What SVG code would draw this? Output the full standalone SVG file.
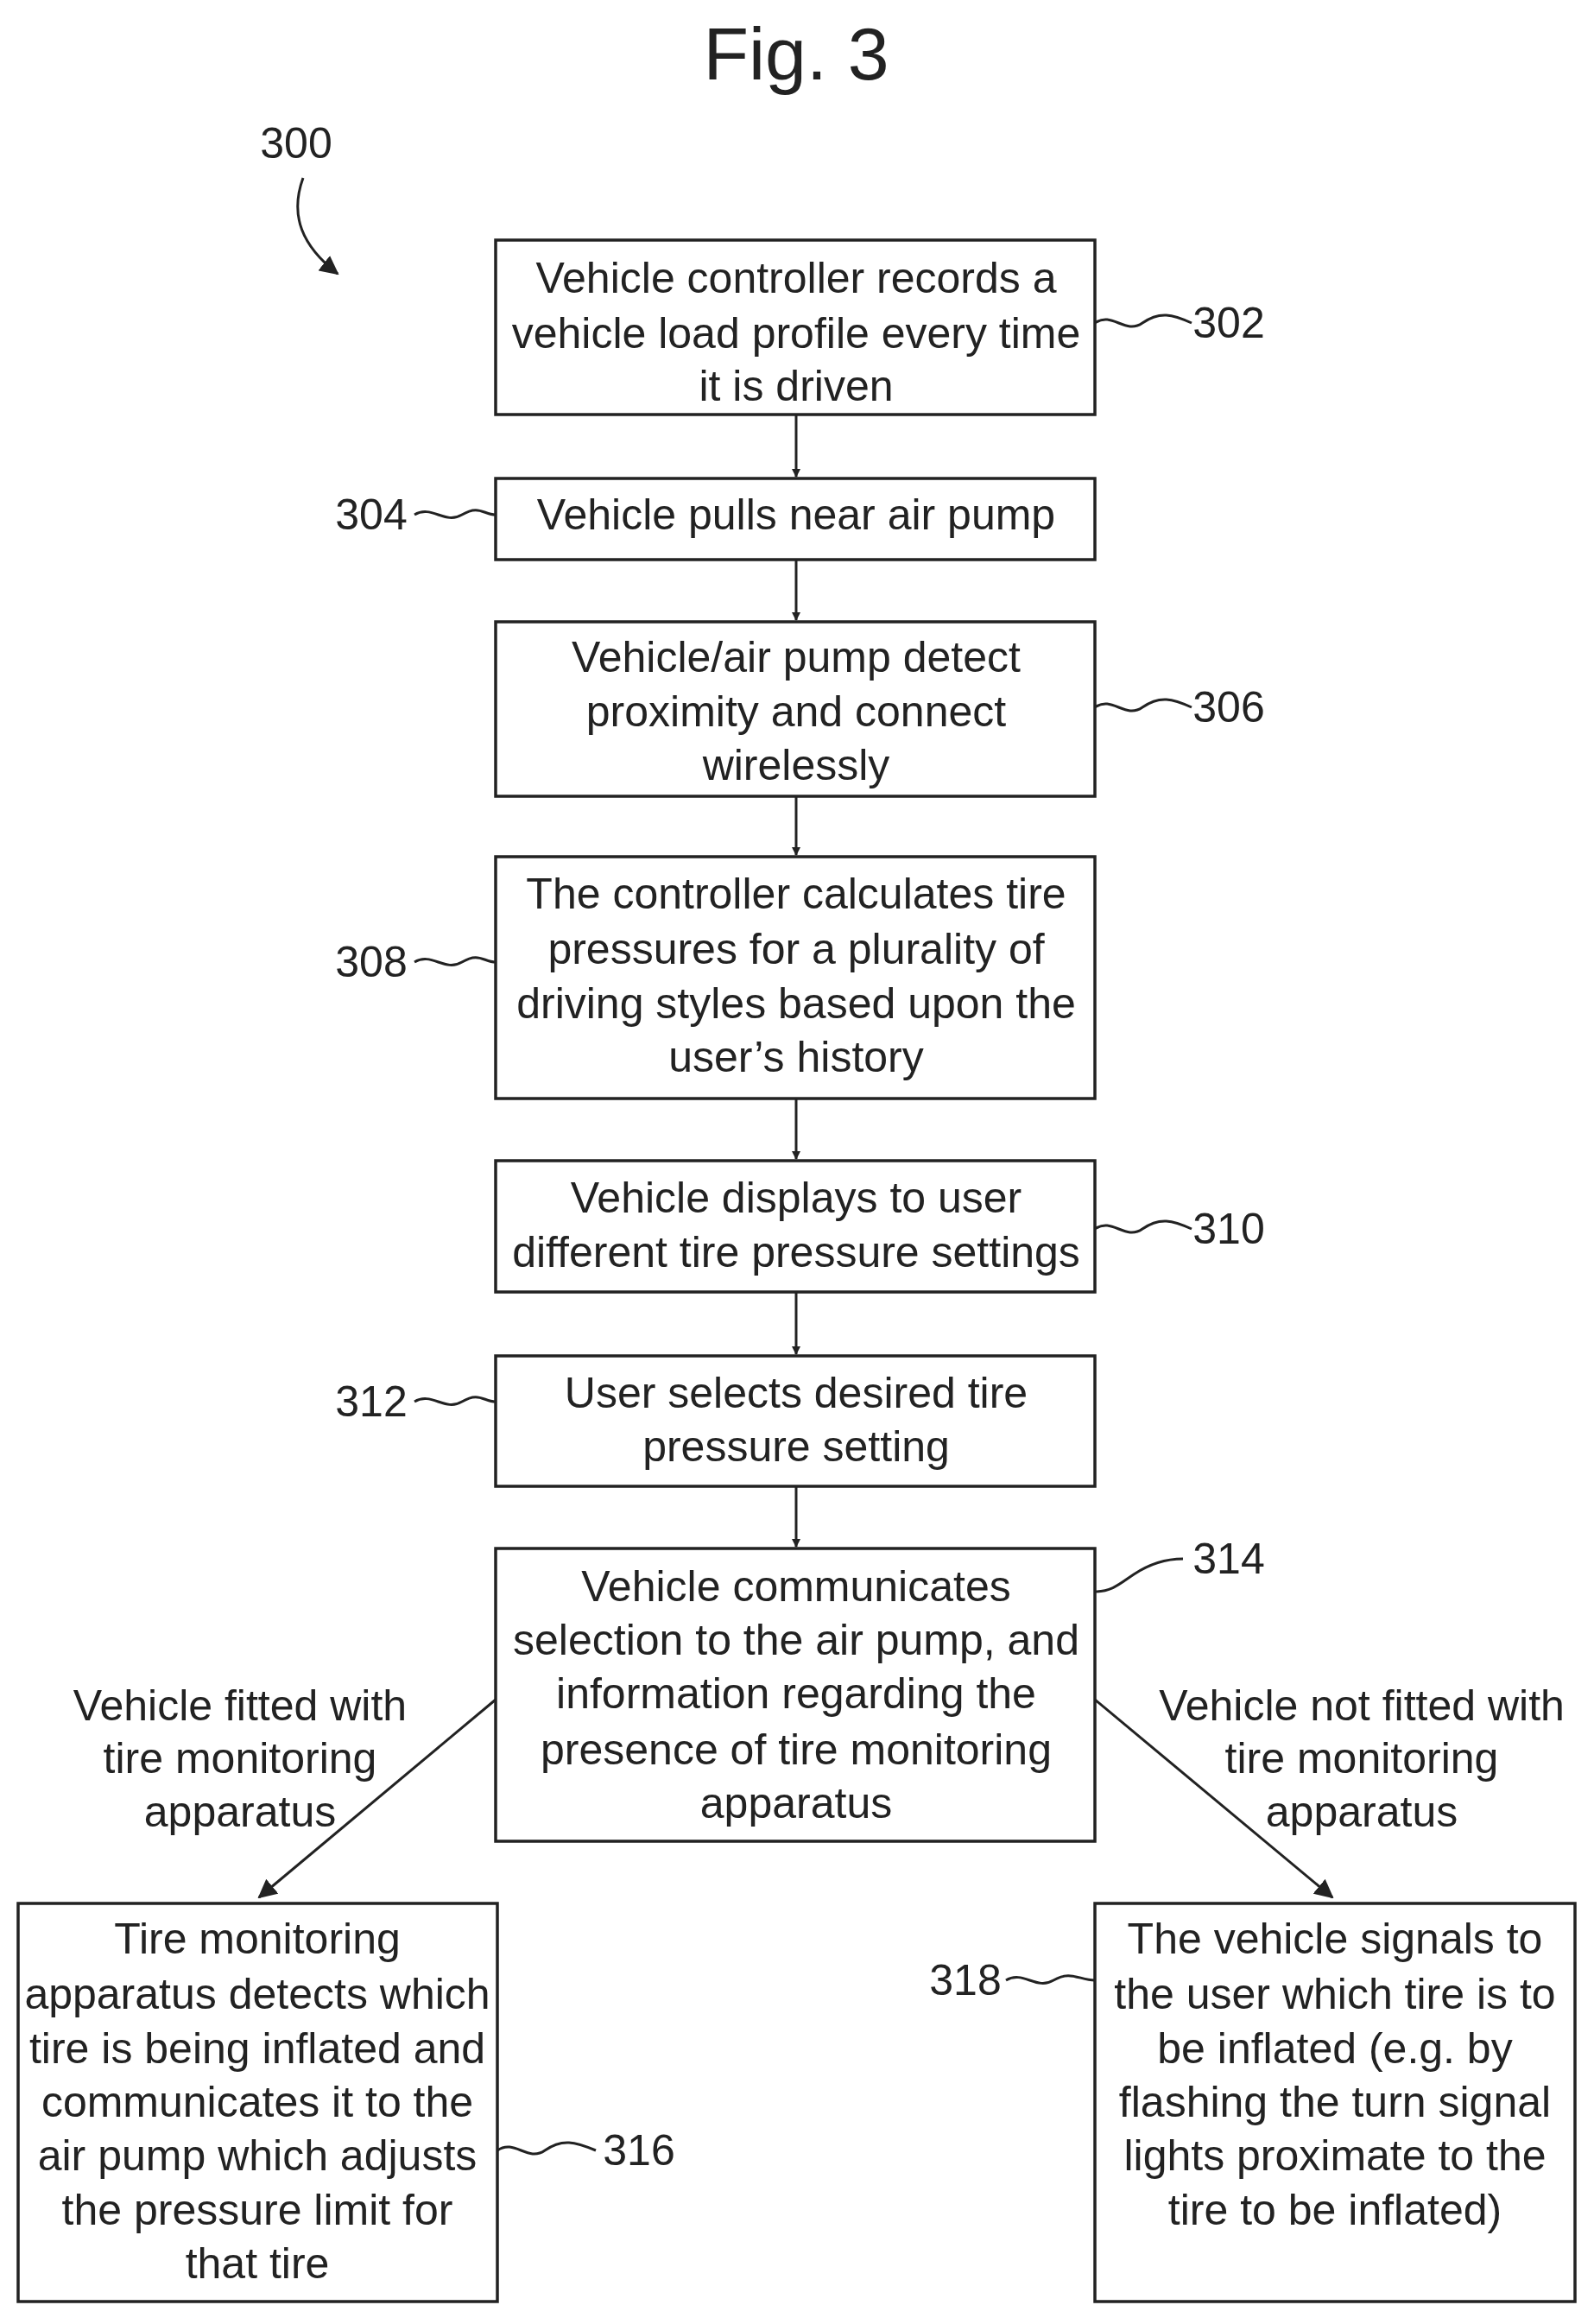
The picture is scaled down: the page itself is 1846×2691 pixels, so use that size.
<svg xmlns="http://www.w3.org/2000/svg" width="1846" height="2691" viewBox="0 0 1846 2691">
<style>
text{font-family:"Liberation Sans",Arial,sans-serif;font-size:50px;fill:#222;text-anchor:middle;dominant-baseline:central}
.box{fill:#fff;stroke:#222;stroke-width:3.5}
.ln{fill:none;stroke:#222;stroke-width:3}
.ref{font-size:50px}
</style>
<defs>
<marker id="ah" markerWidth="10" markerHeight="10" refX="9" refY="5" orient="auto" markerUnits="userSpaceOnUse" viewBox="0 0 10 10"><path d="M0,0 L10,5 L0,10 z" fill="#222"/></marker>
<marker id="ah2" markerWidth="22" markerHeight="22" refX="20" refY="11" orient="auto" markerUnits="userSpaceOnUse" viewBox="0 0 22 22"><path d="M0,0 L22,11 L0,22 z" fill="#222"/></marker>
</defs>
<rect width="1846" height="2691" fill="#fff"/>
<text x="922" y="62" style="font-size:86px">Fig. 3</text>
<text x="343" y="166">300</text>
<path class="ln" d="M351,206 C335,250 350,285 391,317" marker-end="url(#ah2)"/>
<g id="connectors">
<path class="ln" d="M922,480 V552" marker-end="url(#ah)"/>
<path class="ln" d="M922,648 V718" marker-end="url(#ah)"/>
<path class="ln" d="M922,922 V990" marker-end="url(#ah)"/>
<path class="ln" d="M922,1272 V1342" marker-end="url(#ah)"/>
<path class="ln" d="M922,1496 V1568" marker-end="url(#ah)"/>
<path class="ln" d="M922,1721 V1791" marker-end="url(#ah)"/>
<path class="ln" d="M574,1968 L300,2197" marker-end="url(#ah2)"/>
<path class="ln" d="M1268,1968 L1543,2197" marker-end="url(#ah2)"/>
<text x="278" y="1975">Vehicle fitted with</text><text x="278" y="2036">tire monitoring</text><text x="278" y="2098">apparatus</text>
<text x="1577" y="1975">Vehicle not fitted with</text><text x="1577" y="2036">tire monitoring</text><text x="1577" y="2098">apparatus</text>
</g>
<g id="n302"><rect class="box" x="574" y="278" width="694" height="202"/>
<text x="922" y="322">Vehicle controller records a</text><text x="922" y="386">vehicle load profile every time</text><text x="922" y="447">it is driven</text>
<path class="ln" d="M1268,374 c20,-14 35,14 55,0 s35,-10 57,0"/><text x="1423" y="374">302</text></g>
<g id="n304"><rect class="box" x="574" y="554" width="694" height="94"/>
<text x="922" y="596">Vehicle pulls near air pump</text>
<path class="ln" d="M480,596 c20,-12 35,12 55,0 s25,0 39,0"/><text x="430" y="596">304</text></g>
<g id="n306"><rect class="box" x="574" y="720" width="694" height="202"/>
<text x="922" y="761">Vehicle/air pump detect</text><text x="922" y="824">proximity and connect</text><text x="922" y="886">wirelessly</text>
<path class="ln" d="M1268,819 c20,-14 35,14 55,0 s35,-10 57,0"/><text x="1423" y="819">306</text></g>
<g id="n308"><rect class="box" x="574" y="992" width="694" height="280"/>
<text x="922" y="1035">The controller calculates tire</text><text x="922" y="1099">pressures for a plurality of</text><text x="922" y="1162">driving styles based upon the</text><text x="922" y="1224">user’s history</text>
<path class="ln" d="M480,1114 c20,-12 35,12 55,0 s25,0 39,0"/><text x="430" y="1114">308</text></g>
<g id="n310"><rect class="box" x="574" y="1344" width="694" height="152"/>
<text x="922" y="1387">Vehicle displays to user</text><text x="922" y="1450">different tire pressure settings</text>
<path class="ln" d="M1268,1423 c20,-14 35,14 55,0 s35,-10 57,0"/><text x="1423" y="1423">310</text></g>
<g id="n312"><rect class="box" x="574" y="1570" width="694" height="151"/>
<text x="922" y="1613">User selects desired tire</text><text x="922" y="1675">pressure setting</text>
<path class="ln" d="M480,1623 c20,-12 35,12 55,0 s25,0 39,0"/><text x="430" y="1623">312</text></g>
<g id="n314"><rect class="box" x="574" y="1793" width="694" height="339"/>
<text x="922" y="1837">Vehicle communicates</text><text x="922" y="1899">selection to the air pump, and</text><text x="922" y="1961">information regarding the</text><text x="922" y="2026">presence of tire monitoring</text><text x="922" y="2088">apparatus</text>
<path class="ln" d="M1268,1843 c20,0 30,-10 45,-20 s35,-18 57,-18"/><text x="1423" y="1805">314</text></g>
<g id="n316"><rect class="box" x="21" y="2204" width="555" height="461"/>
<text x="298" y="2245">Tire monitoring</text><text x="298" y="2309">apparatus detects which</text><text x="298" y="2372">tire is being inflated and</text><text x="298" y="2434">communicates it to the</text><text x="298" y="2496">air pump which adjusts</text><text x="298" y="2559">the pressure limit for</text><text x="298" y="2621">that tire</text>
<path class="ln" d="M576,2490 c20,-14 35,14 55,0 s35,-10 59,0"/><text x="740" y="2490">316</text></g>
<g id="n318"><rect class="box" x="1268" y="2204" width="556" height="461"/>
<text x="1546" y="2245">The vehicle signals to</text><text x="1546" y="2309">the user which tire is to</text><text x="1546" y="2372">be inflated (e.g. by</text><text x="1546" y="2434">flashing the turn signal</text><text x="1546" y="2496">lights proximate to the</text><text x="1546" y="2559">tire to be inflated)</text>
<path class="ln" d="M1165,2293 c20,-12 35,12 55,0 s30,0 48,0"/><text x="1118" y="2293">318</text></g>
</svg>
